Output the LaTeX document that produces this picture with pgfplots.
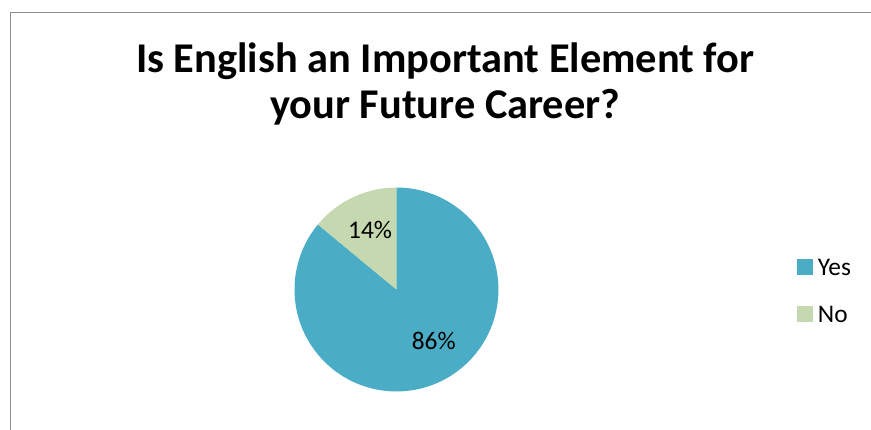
\documentclass[border=0pt]{standalone}
\usepackage{fontspec}
\setmainfont{Carlito}
\usepackage{pgfplots}
\usepackage{pgfplotstable}
\pgfplotsset{compat=1.18}

\definecolor{yescol}{HTML}{4BACC6}
\definecolor{nocol}{HTML}{C6D8AF}
\definecolor{framecol}{HTML}{8C8C8C}

\pgfplotstableread{
label value
Yes 86
No 14
}\piedata

\begin{document}
\pgfplotstablegetelem{0}{value}\of\piedata \let\yesval\pgfplotsretval
\pgfplotstablegetelem{1}{value}\of\piedata \let\noval\pgfplotsretval
\pgfmathsetmacro{\yesend}{90-3.6*\yesval}
\pgfmathsetmacro{\noend}{90+3.6*\noval}
\begin{tikzpicture}
\begin{axis}[
  width=871pt, height=432pt,
  scale only axis,
  xmin=0, xmax=871, ymin=0, ymax=432,
  hide axis,
  clip=false,
  legend style={draw=none, fill=none, inner sep=0pt, at={(axis cs:796,172)}, anchor=north west,
    font=\fontsize{25.5}{30}\selectfont, row sep=31pt,
    nodes={inner sep=0pt, text depth=0pt},
    legend cell align=left},
  legend image code/.code={\fill[#1] (0pt,-7.5pt) rectangle (15pt,7.5pt); \path (21pt,0pt);},
]
\addplot[draw=none, forget plot] coordinates {(0,0) (871,432)};
\coordinate (bl) at (axis cs:0,0);
\coordinate (tr) at (axis cs:871,432);
% frame
\draw[framecol, line width=1.5pt] (axis cs:6,0) -- (axis cs:6,419.5) -- (axis cs:871,419.5);
% title
\node[anchor=base, inner sep=0pt, font=\bfseries\fontsize{42.6}{46}\selectfont] at (axis cs:443,359.3)
  {Is English an Important Element for};
\node[anchor=base, inner sep=0pt, font=\bfseries\fontsize{42.6}{46}\selectfont] at (axis cs:443,313)
  {your Future Career?};
% wedges
\fill[yescol] (axis cs:394,141) -- +(90:102.5pt) arc[start angle=90, end angle=\yesend, radius=102.5pt] -- cycle;
\fill[nocol] (axis cs:394,141) -- +(90:102.5pt) arc[start angle=90, end angle=\noend, radius=102.5pt] -- cycle;
\node[anchor=base, inner sep=0pt, font=\fontsize{25.5}{30}\selectfont] at (axis cs:367.5,192) {\noval\%};
\node[anchor=base, inner sep=0pt, font=\fontsize{25.5}{30}\selectfont] at (axis cs:431.5,80.3) {\yesval\%};
\addlegendimage{yescol}
\addlegendentry{Yes}
\addlegendimage{nocol}
\addlegendentry{No}
\end{axis}
\pgfresetboundingbox
\path[use as bounding box] (bl) rectangle (tr);
\end{tikzpicture}
\end{document}
